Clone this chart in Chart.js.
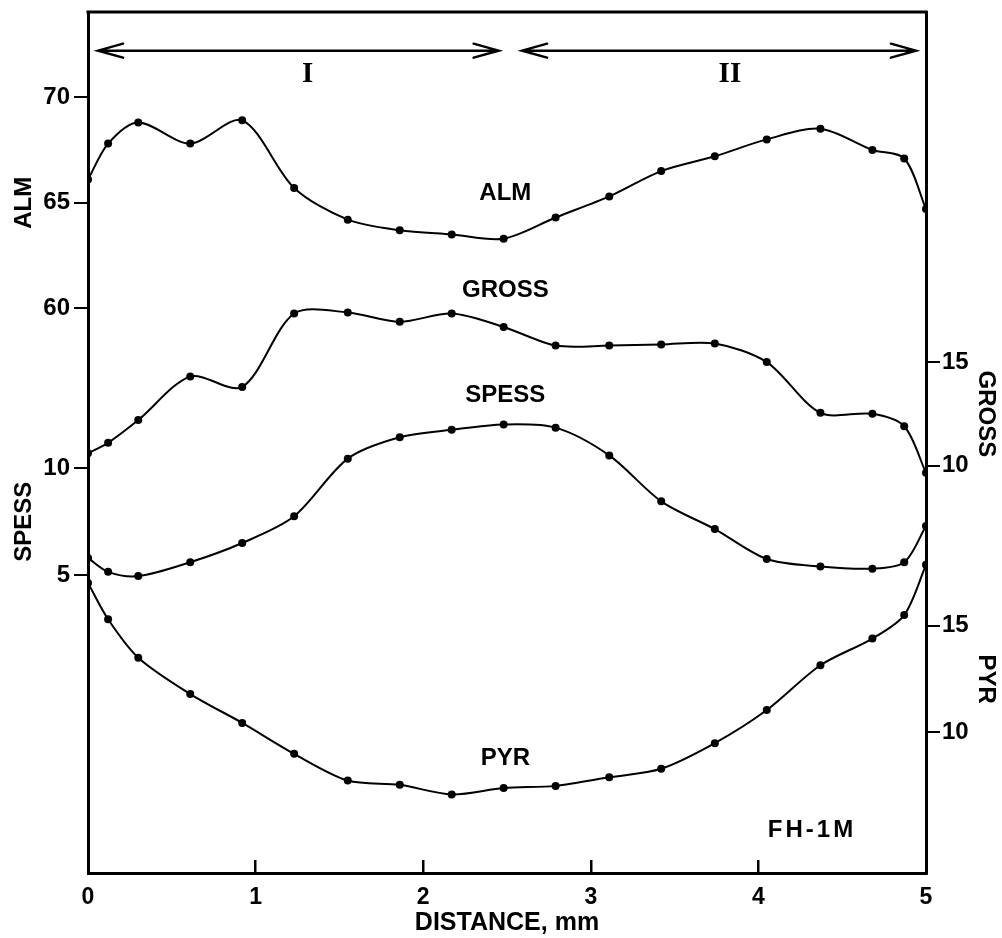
<!DOCTYPE html>
<html>
<head>
<meta charset="utf-8">
<script src="https://cdn.jsdelivr.net/npm/chart.js@4.4.1/dist/chart.umd.min.js"></script>
<style>
  html, body { margin: 0; padding: 0; background: #fff; overflow: hidden; }
  #wrap { width: 1002px; height: 938px; position: relative; }
</style>
</head>
<body>
<div id="wrap"><canvas id="chart"></canvas></div>
<script>
const distance = [0, 0.12, 0.30, 0.61, 0.92, 1.23, 1.55, 1.86, 2.17, 2.48, 2.79, 3.11, 3.42, 3.74, 4.05, 4.37, 4.68, 4.87, 5.0];

const alm   = [66.1, 67.8, 68.8, 67.8, 68.9, 65.7, 64.2, 63.7, 63.5, 63.3, 64.3, 65.3, 66.5, 67.2, 68.0, 68.5, 67.5, 67.1, 64.7];
const gross = [10.6, 11.1, 12.2, 14.3, 13.8, 17.35, 17.4, 16.95, 17.35, 16.7, 15.8, 15.8, 15.85, 15.9, 15.0, 12.55, 12.5, 11.9, 9.65];
const spess = [5.8, 5.15, 4.95, 5.6, 6.5, 7.75, 10.45, 11.45, 11.8, 12.05, 11.9, 10.6, 8.45, 7.15, 5.75, 5.4, 5.3, 5.6, 7.3];
const pyr   = [17.0, 15.3, 13.5, 11.8, 10.45, 9.0, 7.75, 7.55, 7.1, 7.4, 7.5, 7.9, 8.3, 9.5, 11.05, 13.15, 14.4, 15.5, 17.85];

const xTicks     = [0, 1, 2, 3, 4, 5];
const almTicks   = [60, 65, 70];
const spessTicks = [5, 10];
const grossTicks = [10, 15];
const pyrTicks   = [10, 15];

// labels written inside the plot (x in mm, value on the named axis)
const curveLabels = [
  { text: 'ALM',   x: 2.49, axis: 'yAlm',   value: 65.45 },
  { text: 'GROSS', x: 2.49, axis: 'yGross', value: 18.45 },
  { text: 'SPESS', x: 2.49, axis: 'ySpess', value: 13.4 },
  { text: 'PYR',   x: 2.49, axis: 'yPyr',   value: 8.8 },
  { text: 'FH-1M', x: 4.32, axis: 'yPyr',   value: 5.4, spacing: 3 },
];
const zones = [
  { text: 'I',  from: 0.06, to: 2.45, mid: 1.31 },
  { text: 'II', from: 2.59, to: 4.94, mid: 3.83 },
];
const axisTitles = [
  { text: 'ALM',   axis: 'yAlm',   value: 65,   side: 'left' },
  { text: 'SPESS', axis: 'ySpess', value: 7.5,  side: 'left' },
  { text: 'GROSS', axis: 'yGross', value: 12.5, side: 'right' },
  { text: 'PYR',   axis: 'yPyr',   value: 12.5, side: 'right' },
];

const FONT = "'Liberation Sans', Arial, sans-serif";
const font = (size) => ({ family: FONT, size, weight: 'bold' });

const toPoints = (ys) => distance.map((x, i) => ({ x, y: ys[i] }));

function series(label, ys, axis) {
  return {
    label,
    data: toPoints(ys),
    yAxisID: axis,
    borderColor: '#000',
    backgroundColor: '#000',
    borderWidth: 2,
    pointRadius: 4,
    pointBackgroundColor: '#000',
    pointBorderWidth: 0,
    tension: 0.3,
    fill: false,
  };
}

function yAxis(position, weight, width, min, max, ticks) {
  return {
    type: 'linear',
    position,
    weight,
    min,
    max,
    afterBuildTicks: (s) => { s.ticks = ticks.map((v) => ({ value: v })); },
    afterFit: (s) => { s.width = width; s.paddingTop = 0; s.paddingBottom = 0; },
    border: { display: true, color: '#000', width: 3 },
    grid: { drawOnChartArea: false, drawTicks: true, tickLength: 14, color: '#000', lineWidth: 2 },
    ticks: { color: '#000', font: font(24), padding: position === 'left' ? 4 : 2, autoSkip: false },
  };
}

// ── Frame, arrows, in-plot labels, axis titles ─────
const decorPlugin = {
  id: 'decor',
  afterLayout(chart) {
    // the two axes on each side share one line: widen the zero-width ones so their labels are not clipped
    const s = chart.scales;
    s.ySpess.left = s.yAlm.left;
    s.ySpess.width = s.ySpess.right - s.ySpess.left;
    s.yPyr.right = s.yGross.right;
    s.yPyr.width = s.yPyr.right - s.yPyr.left;
  },
  afterDraw(chart) {
    const { ctx, chartArea, scales } = chart;
    const xs = scales.x;
    ctx.save();
    ctx.strokeStyle = '#000';
    ctx.fillStyle = '#000';

    // top edge of the frame
    ctx.lineWidth = 3;
    ctx.beginPath();
    ctx.moveTo(chartArea.left - 1.5, chartArea.top);
    ctx.lineTo(chartArea.right + 1.5, chartArea.top);
    ctx.stroke();

    // zone arrows
    const ay = scales.yAlm.getPixelForValue(72.2);
    const ty = scales.yAlm.getPixelForValue(71.05);
    ctx.lineWidth = 2.5;
    ctx.lineCap = 'round';
    zones.forEach((z) => {
      const x1 = xs.getPixelForValue(z.from);
      const x2 = xs.getPixelForValue(z.to);
      ctx.beginPath();
      ctx.moveTo(x1, ay); ctx.lineTo(x2, ay);
      ctx.moveTo(x1 + 25, ay - 7); ctx.lineTo(x1, ay); ctx.lineTo(x1 + 25, ay + 7);
      ctx.moveTo(x2 - 25, ay - 7); ctx.lineTo(x2, ay); ctx.lineTo(x2 - 25, ay + 7);
      ctx.stroke();
      ctx.font = "bold 29px 'Liberation Serif', 'DejaVu Serif', serif";
      ctx.textAlign = 'center';
      ctx.textBaseline = 'middle';
      ctx.fillText(z.text, xs.getPixelForValue(z.mid), ty);
    });

    // labels on the curves
    ctx.font = `bold 24px ${FONT}`;
    ctx.textAlign = 'center';
    ctx.textBaseline = 'middle';
    curveLabels.forEach((l) => {
      ctx.letterSpacing = (l.spacing || 0) + 'px';
      ctx.fillText(l.text, xs.getPixelForValue(l.x), scales[l.axis].getPixelForValue(l.value));
    });
    ctx.letterSpacing = '0px';

    // rotated axis titles
    axisTitles.forEach((t) => {
      const y = scales[t.axis].getPixelForValue(t.value);
      const x = t.side === 'left' ? chartArea.left - 64 : chartArea.right + 60;
      ctx.save();
      ctx.translate(x, y);
      ctx.rotate(t.side === 'left' ? -Math.PI / 2 : Math.PI / 2);
      ctx.fillText(t.text, 0, 0);
      ctx.restore();
    });
    ctx.restore();
  },
};

new Chart(document.getElementById('chart').getContext('2d'), {
  type: 'line',
  data: {
    datasets: [
      series('ALM', alm, 'yAlm'),
      series('GROSS', gross, 'yGross'),
      series('SPESS', spess, 'ySpess'),
      series('PYR', pyr, 'yPyr'),
    ],
  },
  options: {
    responsive: true,
    maintainAspectRatio: false,
    animation: false,
    layout: { padding: { top: 12, left: 0, right: 0, bottom: 0 } },
    plugins: { legend: { display: false }, tooltip: { enabled: false } },
    scales: {
      x: {
        type: 'linear',
        position: 'bottom',
        min: 0,
        max: 5,
        afterBuildTicks: (s) => { s.ticks = xTicks.map((v) => ({ value: v })); },
        afterFit: (s) => { s.height = 65; s.paddingLeft = 0; s.paddingRight = 0; },
        border: { display: true, color: '#000', width: 3 },
        grid: { drawOnChartArea: false, drawTicks: true, tickLength: -13, color: '#000', lineWidth: 2.5 },
        ticks: { color: '#000', font: font(23), padding: 24, maxRotation: 0, autoSkip: false },
        title: { display: true, text: 'DISTANCE, mm', color: '#000', font: font(25), padding: { top: 4, bottom: 0 } },
      },
      yAlm:   yAxis('left',  1, 88, 33.27, 74.03, almTicks),
      ySpess: yAxis('left',  0, 0, -8.95, 31.36, spessTicks),
      yGross: yAxis('right', 1, 76, -9.69, 31.92, grossTicks),
      yPyr:   yAxis('right', 0, 0, 3.42, 43.74, pyrTicks),
    },
  },
  plugins: [decorPlugin],
});
</script>
</body>
</html>
